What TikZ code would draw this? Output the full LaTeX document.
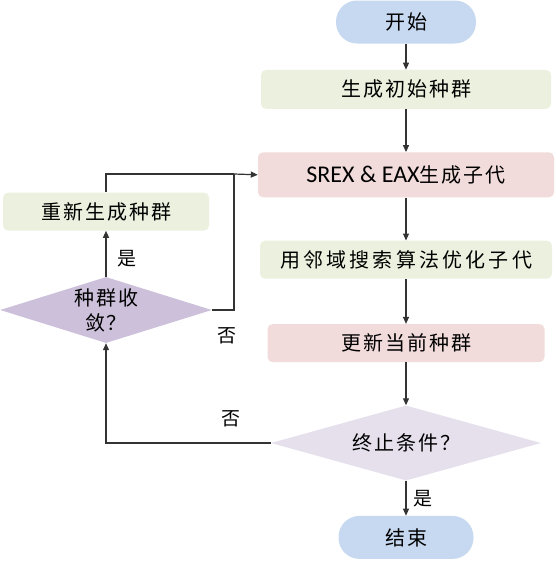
\documentclass[tikz,border=0pt]{standalone}
\usepackage{fontspec}
\setmainfont{Noto Sans CJK SC}[LetterSpace=10]
\newfontfamily\widecjk{Noto Sans CJK SC}[LetterSpace=16]
\newfontfamily\latinfont{Carlito}
\usetikzlibrary{positioning, shapes.geometric, arrows.meta}

\definecolor{pillblue}{HTML}{C6D9F0}
\definecolor{boxgreen}{HTML}{EBF1DE}
\definecolor{boxpink}{HTML}{F2DCDB}
\definecolor{diapurple}{HTML}{CCC0DA}
\definecolor{dialight}{HTML}{E5E0EC}
\definecolor{linegray}{HTML}{333333}

\tikzset{
  pill/.style={rectangle, rounded corners=21pt, fill=pillblue, minimum width=140pt, minimum height=43pt, inner sep=0pt},
  stepbox/.style={rectangle, rounded corners=5pt, minimum height=39pt, inner sep=0pt},
  choice/.style={diamond, aspect=3.4, inner sep=0pt, align=center},
  flow/.style={draw=linegray, line width=1.2pt, -{Triangle[length=7pt,width=6pt]}},
  link/.style={draw=linegray, line width=1.2pt},
  tag/.style={font=\fontsize{19}{22}\selectfont},
}

\begin{document}
\begin{tikzpicture}[x=1pt, y=-1pt, font=\fontsize{20}{25}\selectfont]
  \useasboundingbox (0,0) rectangle (556,562);
  % main column
  \node [pill] (start) at (406,22) {开始};
  \node [stepbox, fill=boxgreen, minimum width=290pt, below=26pt of start] (init) {生成初始种群};
  \node [stepbox, fill=boxpink, minimum width=296pt, minimum height=45pt, below=43pt of init] (srex) {{\latinfont\fontsize{24}{26}\selectfont SREX \& EAX}生成子代};
  \node [stepbox, fill=boxgreen, minimum width=292pt, minimum height=38pt, below=43pt of srex] (opt) {\widecjk 用邻域搜索算法优化子代};
  \node [stepbox, fill=boxpink, minimum width=277pt, minimum height=38pt, below=45pt of opt] (upd) {更新当前种群};
  \node [choice, fill=dialight, minimum width=270pt, minimum height=75pt, below=43pt of upd] (term) {终止条件？};
  \node [pill, minimum width=135pt, below=35pt of term] (stop) {结束};
  % side loop
  \node [choice, fill=diapurple, minimum width=211pt, minimum height=66pt] (conv) at (106,310) {种群收\\敛？};
  \node [stepbox, fill=boxgreen, minimum width=206pt, minimum height=38pt, above=46pt of conv] (regen) {重新生成种群};
  \coordinate (joint) at (234,174);

  \draw [flow] (start) -- (init);
  \draw [flow] (init) -- (srex);
  \draw [flow] (srex) -- (opt);
  \draw [flow] (opt) -- (upd);
  \draw [flow] (upd) -- (term);
  \draw [flow] (term) -- node [tag, right=4pt] {是} (stop);
  \draw [flow] (term.west) -| node [tag, pos=0.12, above=12pt] {否} (conv.south);
  \draw [flow] (conv) -- node [tag, right=8pt, yshift=-5pt] {是} (regen);
  \draw [link] (conv.east) -| (joint);
  \node [tag] (no2) at (227,336) {否};
  \draw [link] (regen.north) |- (joint);
  \draw [flow] (joint) -- (srex.west);
\end{tikzpicture}
\end{document}
